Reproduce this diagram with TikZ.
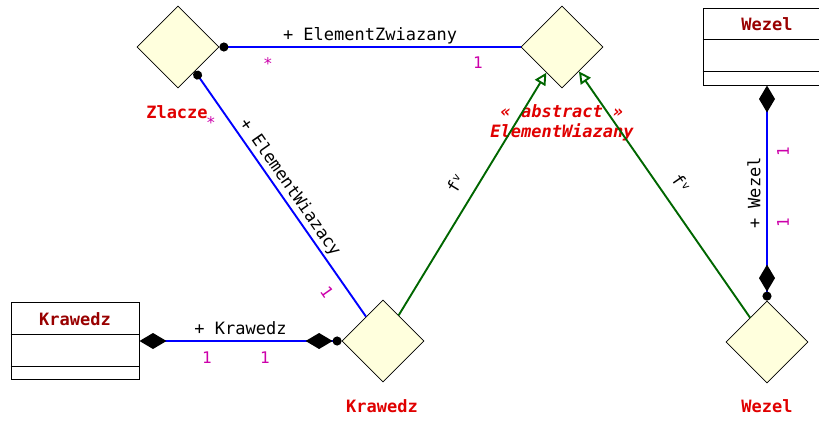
\documentclass[tikz,border=0pt]{standalone}
\usepackage{fontspec}
\setmainfont{DejaVu Sans Mono}
\usetikzlibrary{shapes.geometric,arrows.meta,calc}
\definecolor{elemfill}{RGB}{255,255,221}
\definecolor{assocblue}{RGB}{0,0,255}
\definecolor{genergreen}{RGB}{0,102,0}
\definecolor{namered}{RGB}{224,0,0}
\definecolor{clsred}{RGB}{153,0,0}
\definecolor{multmag}{RGB}{204,0,170}
\begin{document}
\begin{tikzpicture}[x=1pt, y=-1pt, font=\fontsize{17}{20}\selectfont,
    comp/.tip={Diamond[length=27pt, width=16pt, color=black]},
    knob/.tip={Circle[length=9pt, color=black]},
    elem/.style={diamond, draw, line width=0.8pt, fill=elemfill, minimum width=82pt, minimum height=82pt, inner sep=0pt},
    clsbox/.style={draw, line width=1pt, fill=white, minimum width=128pt, minimum height=77pt, inner sep=0pt},
    assoc/.style={assocblue, line width=1.9pt},
    gener/.style={genergreen, line width=1.9pt, -{Triangle[open, length=12pt, width=12pt]}},
    role/.style={black, text height=0.76em, text depth=0.24em},
    elemname/.style={namered, font=\fontsize{17}{20}\selectfont\bfseries},
    clsname/.style={clsred, font=\fontsize{17}{20}\selectfont\bfseries},
    mult/.style={multmag, font=\fontsize{16}{18}\selectfont}]
    \useasboundingbox (0,0) rectangle (819,421);

    % 元素 (菱形)
    \node[elem] (zlacze) at (178,47) {};
    \node[elem] (elemwiaz) at (562,47) {};
    \node[elem] (krawedz) at (383,341) {};
    \node[elem] (wezel) at (767,342) {};
    \node[elemname] (zlaczename) at (177,112) {Zlacze};
    \node[elemname, font=\fontsize{17}{20}\selectfont\bfseries\itshape, align=center] (elemwiazname) at (562,123) {« abstract »\\ElementWiazany};
    \node[elemname] (krawedzname) at (382,406) {Krawedz};
    \node[elemname] (wezelname) at (767,406) {Wezel};

    % 类 (矩形)
    \node[clsbox] (krawedzcls) at (75,341) {};
    \draw[line width=1pt] ($(krawedzcls.north west)+(0,32)$) -- ($(krawedzcls.north east)+(0,32)$);
    \draw[line width=1pt] ($(krawedzcls.north west)+(0,64)$) -- ($(krawedzcls.north east)+(0,64)$);
    \node[clsname] (krawedztitle) at ($(krawedzcls.north)+(0,17)$) {Krawedz};
    \node[clsbox] (wezelcls) at (767,46.5) {};
    \draw[line width=1pt] ($(wezelcls.north west)+(0,32)$) -- ($(wezelcls.north east)+(0,32)$);
    \draw[line width=1pt] ($(wezelcls.north west)+(0,64)$) -- ($(wezelcls.north east)+(0,64)$);
    \node[clsname] (wezeltitle) at ($(wezelcls.north)+(0,17)$) {Wezel};

    % 关联
    \draw[assoc, {knob[]}-] (zlacze) -- node[role, above] (zwlabel) {+ ElementZwiazany} (elemwiaz);
    \draw[assoc, {knob[]}-] (zlacze) -- node[role, above, sloped] (wclabel) {+ ElementWiazacy} (krawedz);
    \draw[assoc, {comp[]}-{comp[]knob[]}] (krawedzcls) -- node[role, above] (krlabel) {+ Krawedz} (krawedz);
    \draw[assoc, {comp[]}-{comp[]knob[]}] (wezelcls) -- node[role, rotate=90, anchor=south, pos=0.5] (wzlabel) {+ Wezel} (wezel);

    % 泛化
    \draw[gener] (krawedz) -- node[role, above=7pt, sloped] (krgen) {f\kern1pt\raisebox{5pt}{\fontsize{11}{11}\selectfont v}} (elemwiaz);
    \draw[gener] (wezel) -- node[role, above=7pt, sloped] (wzgen) {f\kern1pt\raisebox{5pt}{\fontsize{11}{11}\selectfont v}} (elemwiaz);

    % 重数
    \node[mult] (m1) at (268,64) {*};
    \node[mult] (m2) at (478,63) {1};
    \node[mult] (m3) at (211,123) {*};
    \node[mult, rotate=-55] (m4) at (327,292) {1};
    \node[mult] (m5) at (207,358) {1};
    \node[mult] (m6) at (265,358) {1};
    \node[mult, rotate=90] (m7) at (783,152) {1};
    \node[mult, rotate=90] (m8) at (783,223) {1};
\end{tikzpicture}
\end{document}
